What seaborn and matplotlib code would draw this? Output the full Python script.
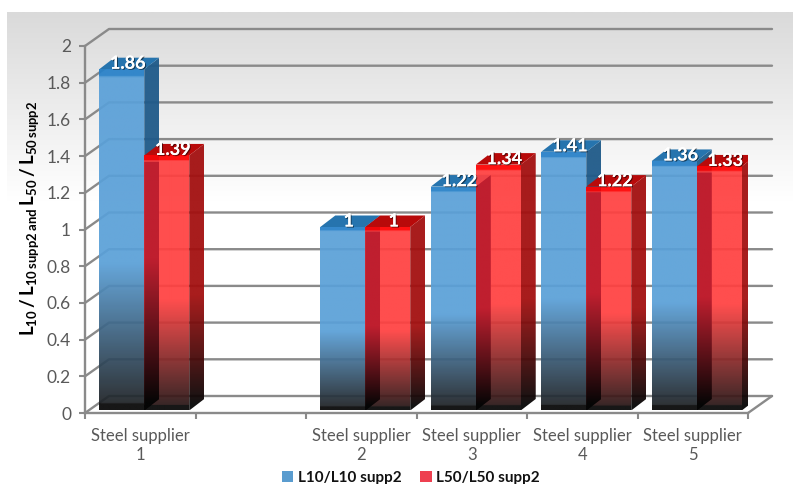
"""Two-series 3D-look bar chart of L10 and L50 ratios per steel supplier."""
import matplotlib
matplotlib.use('Agg')
import matplotlib.patheffects as pe
import matplotlib.pyplot as plt
import numpy as np
import pandas as pd
import seaborn as sns
from matplotlib.colors import LinearSegmentedColormap
from matplotlib.patches import Patch, Polygon

suppliers = ['Steel supplier\n1', 'Steel supplier\n2', 'Steel supplier\n3',
             'Steel supplier\n4', 'Steel supplier\n5']
slot_order = ['Steel supplier\n1', ' ', 'Steel supplier\n2', 'Steel supplier\n3',
              'Steel supplier\n4', 'Steel supplier\n5']
l10_ratio = [1.86, 1, 1.22, 1.41, 1.36]
l50_ratio = [1.39, 1, 1.34, 1.22, 1.33]
series_names = ['L10/L10 supp2', 'L50/L50 supp2']
y_ticks = [0, 0.2, 0.4, 0.6, 0.8, 1, 1.2, 1.4, 1.6, 1.8, 2]
y_tick_labels = ['0', '0.2', '0.4', '0.6', '0.8', '1', '1.2', '1.4', '1.6', '1.8', '2']

W, H = 793, 484
AX_LEFT, AX_RIGHT, AX_BOTTOM, AX_TOP = 85, 748, 413, 46
PX_X = 6 / (AX_RIGHT - AX_LEFT)
PX_Y = 2 / (AX_BOTTOM - AX_TOP)
GRID = '#8a8a8a'
TEXT = '#595959'


def ramp(name, low, base, strip=None):
    """Vertical colour ramp in fractions of the bar height."""
    stops = [(0, '#050505'), (0.017, '#050505'), (0.02, low), (0.43, base)]
    if strip:
        stops += [(0.975, base), (0.98, strip), (1, strip)]
    else:
        stops += [(1, base)]
    return LinearSegmentedColormap.from_list(name, stops)


def shade(ax, xy, y0, y1, cmap, zorder, alpha=1.0):
    """Fill a polygon with a vertical ramp running from y0 to y1."""
    clip = Polygon(xy, closed=True, facecolor='none', edgecolor='none', zorder=zorder)
    ax.add_patch(clip)
    xs = [p[0] for p in xy]
    im = ax.imshow(np.linspace(1, 0, 256).reshape(-1, 1), cmap=cmap, vmin=0, vmax=1,
                   extent=(min(xs), max(xs), y0, y1), aspect='auto', alpha=alpha,
                   zorder=zorder, interpolation='bilinear')
    im.set_clip_path(clip)


df = pd.DataFrame({
    'supplier': suppliers * 2,
    'ratio': l10_ratio + l50_ratio,
    'series': [series_names[0]] * 5 + [series_names[1]] * 5,
})

sns.set_style('white')
plt.rcParams['font.family'] = ['Lato', 'DejaVu Sans']
plt.rcParams['mathtext.fontset'] = 'custom'
plt.rcParams['mathtext.bf'] = 'Lato:bold'
plt.rcParams['mathtext.rm'] = 'Lato:bold'

fig = plt.figure(figsize=(W / 100, H / 100), dpi=100, facecolor='white')

# grey to white panel behind the plot
bg = fig.add_axes([7 / W, 0, (W - 7) / W, (H - 12) / H], zorder=0)
bg_cmap = LinearSegmentedColormap.from_list(
    'panel', [(0, '#dadada'), (0.4, '#ffffff'), (1, '#ffffff')])
bg.imshow(np.linspace(0, 1, 256).reshape(-1, 1), cmap=bg_cmap, aspect='auto')
bg.axis('off')

ax = fig.add_axes([AX_LEFT / W, 1 - AX_BOTTOM / H, (AX_RIGHT - AX_LEFT) / W,
                   (AX_BOTTOM - AX_TOP) / H], zorder=1)
ax.patch.set_alpha(0)

sns.barplot(data=df, x='supplier', y='ratio', hue='series', order=slot_order,
            hue_order=series_names, width=0.814, palette=['#5aa0d8', '#ff4040'],
            legend=False, ax=ax)
ax.set_xlim(-0.5, 5.5)
ax.set_ylim(0, 2)

# wall and floor lines, seen in depth
wall_x = 24 * PX_X
wall_y = 17 * PX_Y
for v in y_ticks:
    ax.plot([-0.5, -0.5 + wall_x, 5.5 + wall_x], [v, v + wall_y, v + wall_y],
            color=GRID, lw=1.7, clip_on=False, zorder=1)
ax.plot([5.5, 5.5 + wall_x], [0, wall_y], color=GRID, lw=1.7, clip_on=False, zorder=1)

# the bars stand a little behind the front edge of the floor
shift_x = 4 * PX_X
shift_y = 2.5 * PX_Y
depth_x = 15 * PX_X
depth_y = 11.5 * PX_Y

front_maps = [ramp('bf', '#1f2327', '#5aa0d8', '#2680c8'),
              ramp('rf', '#2a1616', '#ff4040', '#ff0000')]
side_maps = [ramp('bs', '#050505', '#1f5a89'), ramp('rs', '#050505', '#a31010')]
top_colors = ['#2674ae', '#b80a0a']
overlap_map = ramp('ov', '#050505', '#bf1f2f')

z = 3
blue_bars = list(ax.containers[0])
red_bars = list(ax.containers[1])
for blue, red in zip(blue_bars, red_bars):
    for idx, bar in enumerate((blue, red)):
        bar.set_x(bar.get_x() + shift_x)
        bar.set_y(shift_y)
        bar.set_facecolor('none')
        bar.set_edgecolor('none')
        x0, x1 = bar.get_x(), bar.get_x() + bar.get_width()
        y0, y1 = shift_y, shift_y + bar.get_height()
        side = [(x1, y0), (x1 + depth_x, y0 + depth_y), (x1 + depth_x, y1 + depth_y), (x1, y1)]
        shade(ax, side, y0, y1 + depth_y, side_maps[idx], z, alpha=0.95)
        top = [(x0, y1), (x1, y1), (x1 + depth_x, y1 + depth_y), (x0 + depth_x, y1 + depth_y)]
        ax.add_patch(Polygon(top, closed=True, facecolor=top_colors[idx],
                             edgecolor='none', zorder=z + 1))
        shade(ax, [(x0, y0), (x1, y0), (x1, y1), (x0, y1)], y0, y1,
              front_maps[idx], z + 2, alpha=0.93)
        z += 3
    # blue side face seen through the red front
    bx1 = blue.get_x() + blue.get_width()
    blue_top = shift_y + blue.get_height()
    red_body = shift_y + red.get_height() * 0.975
    overlap = [(bx1, shift_y), (bx1 + depth_x, shift_y + depth_y),
               (bx1 + depth_x, min(blue_top + depth_y, red_body)),
               (bx1, min(blue_top, red_body))]
    shade(ax, overlap, shift_y, blue_top + depth_y, overlap_map, z)
    z += 1

for bar in blue_bars + red_bars:
    label_x = bar.get_x() + bar.get_width() / 2 + depth_x / 2 - 1.5 * PX_X
    label_y = shift_y + bar.get_height() + 6 * PX_Y
    ax.text(label_x, label_y, f'{bar.get_height():g}', color='white', fontsize=13,
            fontweight='bold', ha='center', va='center', zorder=z + 1,
            path_effects=[pe.withSimplePatchShadow(offset=(0.8, -0.8), shadow_rgbFace='black',
                                                   alpha=0.5), pe.Normal()])

ax.set_yticks(y_ticks, y_tick_labels)
ax.set_xticks(range(len(slot_order)), slot_order)
ax.set_xticks(np.arange(len(slot_order) + 1) - 0.5, minor=True)
ax.tick_params(axis='x', which='major', length=0, pad=11, labelsize=12, labelcolor=TEXT)
ax.tick_params(axis='x', which='minor', length=4, width=1.5, color=GRID, direction='out',
               bottom=True)
ax.tick_params(axis='y', which='major', length=4, width=1.5, color=GRID, direction='out',
               left=True, pad=6, labelsize=12.5, labelcolor=TEXT)
for s in ['top', 'right']:
    ax.spines[s].set_visible(False)
for s in ['left', 'bottom']:
    ax.spines[s].set_linewidth(1.7)
    ax.spines[s].set_color(GRID)
    ax.spines[s].set_zorder(2)
ax.set_xlabel('')
ax.set_ylabel('')

fig.text(30 / W, 1 - 218 / H,
         r'$\mathbf{L_{10}\,/\,L_{10\,supp2\,and}\,L_{50}\,/\,L_{50\,supp2}}$',
         rotation=90, ha='center', va='center', fontsize=13.5, color='black')

handles = [Patch(facecolor='#5a9ccf', edgecolor='none'), Patch(facecolor='#ee4050', edgecolor='none')]
fig.legend(handles, series_names, loc='center', bbox_to_anchor=(411 / W, 1 - 478 / H), ncol=2,
           frameon=False, handlelength=0.75, handleheight=0.75, handletextpad=0.3,
           columnspacing=1.2, prop={'weight': 'bold', 'size': 11}, labelcolor='#111111')

plt.savefig('out.png', dpi=100)
plt.close()
